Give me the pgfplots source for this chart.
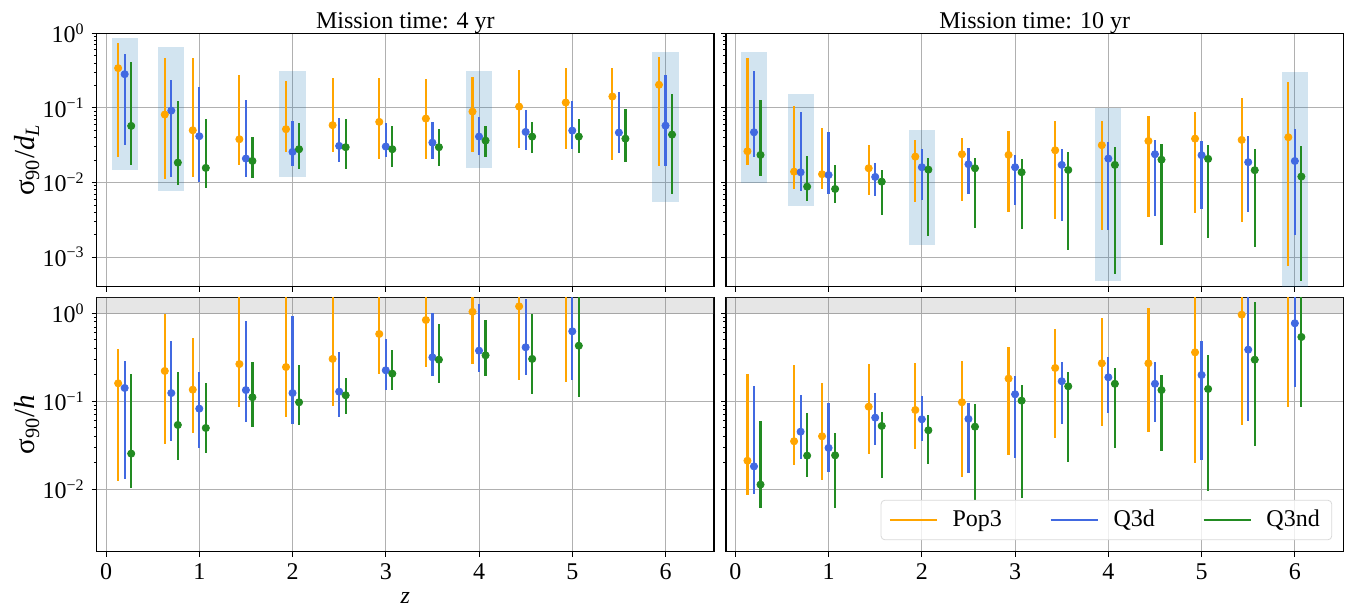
\documentclass[border=0pt]{standalone}
\usepackage{fontspec}
\setmainfont{Liberation Serif}
\usepackage{pgfplots}
\pgfplotsset{compat=1.18}
\definecolor{orC}{RGB}{255,165,0}
\definecolor{blC}{RGB}{65,105,225}
\definecolor{grC}{RGB}{34,139,34}
\definecolor{boxC}{RGB}{31,119,180}
\definecolor{gridC}{RGB}{176,176,176}
\newcommand{\myfs}{\fontsize{12}{14}\selectfont}
\begin{document}
\begin{tikzpicture}
\useasboundingbox (0,0) rectangle (673.5pt,303pt);
% ---------------- top left
\begin{axis}[at={(48.35pt,286.35pt)}, anchor=north west,
  scale only axis, width=308.65pt, height=126.7pt,
  xmin=-0.1, xmax=6.52, ymode=log, ymin=4e-4, ymax=1,
  tick align=outside, xtick pos=bottom, ytick pos=left,
  xtick={0,1,2,3,4,5,6}, xticklabels={},
  ytick={1e-3,1e-2,1e-1,1},
  yticklabels={10\textsuperscript{−3},10\textsuperscript{−2},10\textsuperscript{−1},10\textsuperscript{0}},
  major tick length=2.5pt, minor tick length=1.4pt,
  tick style={black, line width=0.4pt},
  grid=major, major grid style={gridC, line width=0.4pt},
  axis line style={line width=0.65pt},
  tick label style={font=\myfs},
  title={Mission time: 4 yr},
  title style={font=\myfs, at={(0.5,1)}, anchor=base, yshift=-3.35pt},
  ylabel={σ\textsubscript{90}/\textit{d}\textsubscript{\textit{L}}},
  ylabel style={at={(axis description cs:-0.113,0.5)}, anchor=center, rotate=0, font=\fontsize{14.5}{16}\selectfont},
  ]
\addplot[fill=boxC, fill opacity=0.2, draw=none] coordinates {(0.06,0.01486) (0.34,0.01486) (0.34,0.87) (0.06,0.87)} -- cycle;
\addplot[fill=boxC, fill opacity=0.2, draw=none] coordinates {(0.56,0.00776) (0.84,0.00776) (0.84,0.659) (0.56,0.659)} -- cycle;
\addplot[fill=boxC, fill opacity=0.2, draw=none] coordinates {(1.86,0.01197) (2.14,0.01197) (2.14,0.314) (1.86,0.314)} -- cycle;
\addplot[fill=boxC, fill opacity=0.2, draw=none] coordinates {(3.86,0.0158) (4.14,0.0158) (4.14,0.314) (3.86,0.314)} -- cycle;
\addplot[fill=boxC, fill opacity=0.2, draw=none] coordinates {(5.86,0.00547) (6.14,0.00547) (6.14,0.565) (5.86,0.565)} -- cycle;
\addplot[only marks, mark=*, mark size=1.8pt, color=orC, error bars/y dir=both, error bars/y explicit, error bars/error mark=none, error bars/error bar style={line width=1.1pt}]
 table[x=x, y=y, y error plus expr=\thisrow{hi}-\thisrow{y}, y error minus expr=\thisrow{y}-\thisrow{lo}] {
x y lo hi
0.13 0.341 0.0222 0.738
0.63 0.0814 0.01114 0.469
0.93 0.0501 0.01173 0.469
1.43 0.038 0.0172 0.272
1.93 0.0518 0.0257 0.228
2.43 0.0586 0.0254 0.255
2.93 0.0649 0.0207 0.25
3.43 0.0719 0.0205 0.243
3.93 0.0892 0.0259 0.263
4.43 0.104 0.0293 0.324
4.93 0.118 0.0284 0.341
5.43 0.142 0.0199 0.347
5.93 0.204 0.0168 0.484
};
\addplot[only marks, mark=*, mark size=1.8pt, color=blC, error bars/y dir=both, error bars/y explicit, error bars/error mark=none, error bars/error bar style={line width=1.1pt}]
 table[x=x, y=y, y error plus expr=\thisrow{hi}-\thisrow{y}, y error minus expr=\thisrow{y}-\thisrow{lo}] {
x y lo hi
0.2 0.283 0.0322 0.531
0.7 0.092 0.01197 0.238
1.0 0.0417 0.01006 0.19
1.5 0.0209 0.01173 0.127
2.0 0.0257 0.01665 0.067
2.5 0.0309 0.01866 0.0734
3.0 0.0303 0.022 0.0623
3.5 0.0342 0.0209 0.0643
4.0 0.0412 0.0236 0.0757
4.5 0.0476 0.0273 0.094
5.0 0.0496 0.0284 0.123
5.5 0.0466 0.0249 0.164
6.0 0.0578 0.0168 0.277
};
\addplot[only marks, mark=*, mark size=1.8pt, color=grC, error bars/y dir=both, error bars/y explicit, error bars/error mark=none, error bars/error bar style={line width=1.1pt}]
 table[x=x, y=y, y error plus expr=\thisrow{hi}-\thisrow{y}, y error minus expr=\thisrow{y}-\thisrow{lo}] {
x y lo hi
0.27 0.0573 0.0172 0.414
0.77 0.01845 0.00925 0.125
1.07 0.01566 0.00844 0.0705
1.57 0.01944 0.01138 0.0412
2.07 0.0279 0.01504 0.0623
2.57 0.0297 0.0152 0.0705
3.07 0.0279 0.016 0.0573
3.57 0.0297 0.0168 0.0523
4.07 0.0364 0.0222 0.0573
4.57 0.0412 0.0251 0.0643
5.07 0.0412 0.0251 0.0719
5.57 0.0387 0.0187 0.097
6.07 0.0438 0.00694 0.153
};
\end{axis}
% ---------------- top right
\begin{axis}[at={(363pt,286.35pt)}, anchor=north west,
  scale only axis, width=308.65pt, height=126.7pt,
  xmin=-0.1, xmax=6.52, ymode=log, ymin=4e-4, ymax=1,
  tick align=outside, xtick pos=bottom, ytick pos=left,
  xtick={0,1,2,3,4,5,6}, xticklabels={},
  ytick={1e-3,1e-2,1e-1,1}, yticklabels={},
  major tick length=2.5pt, minor tick length=1.4pt,
  tick style={black, line width=0.4pt},
  grid=major, major grid style={gridC, line width=0.4pt},
  axis line style={line width=0.65pt},
  tick label style={font=\myfs},
  title={Mission time: 10 yr},
  title style={font=\myfs, at={(0.5,1)}, anchor=base, yshift=-3.35pt},
  ]
\addplot[fill=boxC, fill opacity=0.2, draw=none] coordinates {(0.06,0.00993) (0.34,0.00993) (0.34,0.565) (0.06,0.565)} -- cycle;
\addplot[fill=boxC, fill opacity=0.2, draw=none] coordinates {(0.56,0.00488) (0.84,0.00488) (0.84,0.154) (0.56,0.154)} -- cycle;
\addplot[fill=boxC, fill opacity=0.2, draw=none] coordinates {(1.86,0.00146) (2.14,0.00146) (2.14,0.0507) (1.86,0.0507)} -- cycle;
\addplot[fill=boxC, fill opacity=0.2, draw=none] coordinates {(3.86,0.00048) (4.14,0.00048) (4.14,0.1) (3.86,0.1)} -- cycle;
\addplot[fill=boxC, fill opacity=0.2, draw=none] coordinates {(5.86,0.0001) (6.14,0.0001) (6.14,0.304) (5.86,0.304)} -- cycle;
\addplot[only marks, mark=*, mark size=1.8pt, color=orC, error bars/y dir=both, error bars/y explicit, error bars/error mark=none, error bars/error bar style={line width=1.1pt}]
 table[x=x, y=y, y error plus expr=\thisrow{hi}-\thisrow{y}, y error minus expr=\thisrow{y}-\thisrow{lo}] {
x y lo hi
0.13 0.0262 0.01734 0.465
0.63 0.01396 0.0081 0.1054
0.93 0.0129 0.0081 0.0544
1.43 0.0155 0.00686 0.0322
1.93 0.0222 0.00547 0.0375
2.43 0.0239 0.0057 0.0396
2.93 0.0234 0.00406 0.0487
3.43 0.027 0.00327 0.067
3.93 0.0316 0.0023 0.067
4.43 0.036 0.00347 0.078
4.93 0.0387 0.00386 0.0883
5.43 0.0372 0.00292 0.135
5.93 0.0404 0.00077 0.223
};
\addplot[only marks, mark=*, mark size=1.8pt, color=blC, error bars/y dir=both, error bars/y explicit, error bars/error mark=none, error bars/error bar style={line width=1.1pt}]
 table[x=x, y=y, y error plus expr=\thisrow{hi}-\thisrow{y}, y error minus expr=\thisrow{y}-\thisrow{lo}] {
x y lo hi
0.2 0.0471 0.0222 0.314
0.7 0.0137 0.0076 0.0892
1.0 0.0126 0.00708 0.0471
1.5 0.01186 0.00665 0.0181
2.0 0.016 0.00577 0.0279
2.5 0.01755 0.00708 0.0291
3.0 0.016 0.00499 0.0232
3.5 0.0172 0.00304 0.0284
4.0 0.0209 0.00228 0.0346
4.5 0.0239 0.00355 0.0372
5.0 0.0232 0.00445 0.0357
5.5 0.0187 0.00406 0.0421
6.0 0.0194 0.00199 0.0527
};
\addplot[only marks, mark=*, mark size=1.8pt, color=grC, error bars/y dir=both, error bars/y explicit, error bars/error mark=none, error bars/error bar style={line width=1.1pt}]
 table[x=x, y=y, y error plus expr=\thisrow{hi}-\thisrow{y}, y error minus expr=\thisrow{y}-\thisrow{lo}] {
x y lo hi
0.27 0.0234 0.01222 0.128
0.77 0.00879 0.0057 0.0229
1.07 0.00818 0.00536 0.017
1.57 0.01025 0.0037 0.01486
2.07 0.01486 0.00191 0.0211
2.57 0.0155 0.00247 0.0211
3.07 0.0137 0.00235 0.0205
3.57 0.0147 0.00124 0.0254
4.07 0.0172 0.00059 0.03
4.57 0.0202 0.00144 0.0325
5.07 0.0207 0.00182 0.0319
5.57 0.0146 0.00138 0.0279
6.07 0.012 0.00048 0.0306
};
\end{axis}
% ---------------- bottom left
\begin{axis}[at={(48.35pt,154.35pt)}, anchor=north west,
  scale only axis, width=308.65pt, height=127.2pt,
  xmin=-0.1, xmax=6.52, ymode=log, ymin=1.95e-3, ymax=1.52,
  tick align=outside, xtick pos=bottom, ytick pos=left,
  xtick={0,1,2,3,4,5,6}, xticklabels={0,1,2,3,4,5,6},
  ytick={1e-2,1e-1,1},
  yticklabels={10\textsuperscript{−2},10\textsuperscript{−1},10\textsuperscript{0}},
  major tick length=2.5pt, minor tick length=1.4pt,
  tick style={black, line width=0.4pt},
  grid=major, major grid style={gridC, line width=0.4pt},
  axis line style={line width=0.65pt},
  tick label style={font=\myfs},
  xlabel={\textit{z}},
  xlabel style={at={(axis description cs:0.5,0)}, anchor=base, yshift=-26pt, font=\myfs},
  ylabel={σ\textsubscript{90}/\textit{h}},
  ylabel style={at={(axis description cs:-0.113,0.5)}, anchor=center, rotate=0, font=\fontsize{14.5}{16}\selectfont},
  ]
\addplot[fill=gray, fill opacity=0.2, draw=gray, draw opacity=0.2, line width=0.6pt] coordinates {(-1,1) (8,1) (8,10) (-1,10)} -- cycle;
\addplot[only marks, mark=*, mark size=1.8pt, color=orC, error bars/y dir=both, error bars/y explicit, error bars/error mark=none, error bars/error bar style={line width=1.1pt}]
 table[x=x, y=y, y error plus expr=\thisrow{hi}-\thisrow{y}, y error minus expr=\thisrow{y}-\thisrow{lo}] {
x y lo hi
0.13 0.160 0.01253 0.390
0.63 0.221 0.033 0.99
0.93 0.1355 0.044 0.52
1.43 0.265 0.0868 3
1.93 0.245 0.0658 3
2.43 0.303 0.0877 3
2.93 0.582 0.203 3
3.43 0.839 0.243 3
3.93 1.04 0.265 3
4.43 1.20 0.173 3
4.93 2.5 0.167 5
};
\addplot[only marks, mark=*, mark size=1.8pt, color=blC, error bars/y dir=both, error bars/y explicit, error bars/error mark=none, error bars/error bar style={line width=1.1pt}]
 table[x=x, y=y, y error plus expr=\thisrow{hi}-\thisrow{y}, y error minus expr=\thisrow{y}-\thisrow{lo}] {
x y lo hi
0.2 0.1416 0.0131 0.287
0.7 0.124 0.0351 0.489
1.0 0.0824 0.0292 0.214
1.5 0.134 0.0586 0.818
2.0 0.124 0.0557 0.93
2.5 0.1286 0.0664 0.360
3.0 0.225 0.134 0.511
3.5 0.316 0.192 1.02
4.0 0.376 0.217 1.27
4.5 0.411 0.197 1.44
5.0 0.624 0.175 3
};
\addplot[only marks, mark=*, mark size=1.8pt, color=grC, error bars/y dir=both, error bars/y explicit, error bars/error mark=none, error bars/error bar style={line width=1.1pt}]
 table[x=x, y=y, y error plus expr=\thisrow{hi}-\thisrow{y}, y error minus expr=\thisrow{y}-\thisrow{lo}] {
x y lo hi
0.27 0.0254 0.0104 0.206
0.77 0.0538 0.0215 0.215
1.07 0.0497 0.0256 0.160
1.57 0.111 0.0514 0.277
2.07 0.0974 0.0538 0.258
2.57 0.117 0.0723 0.1825
3.07 0.206 0.134 0.386
3.57 0.297 0.160 0.756
4.07 0.333 0.195 0.832
4.57 0.303 0.122 0.99
5.07 0.428 0.113 3
};
\end{axis}
% ---------------- bottom right
\begin{axis}[at={(363pt,154.35pt)}, anchor=north west,
  scale only axis, width=308.65pt, height=127.2pt,
  xmin=-0.1, xmax=6.52, ymode=log, ymin=1.95e-3, ymax=1.52,
  tick align=outside, xtick pos=bottom, ytick pos=left,
  xtick={0,1,2,3,4,5,6}, xticklabels={0,1,2,3,4,5,6},
  ytick={1e-2,1e-1,1}, yticklabels={},
  major tick length=2.5pt, minor tick length=1.4pt,
  tick style={black, line width=0.4pt},
  grid=major, major grid style={gridC, line width=0.4pt},
  axis line style={line width=0.65pt},
  tick label style={font=\myfs},
  legend columns=3,
  legend style={at={(0.982,0.045)}, anchor=south east, font=\myfs,
    fill=white, fill opacity=0.8, text opacity=1, draw=gray!30, rounded corners=2pt,
    inner xsep=4pt, inner ysep=3pt,
    /tikz/every even column/.append style={column sep=22pt}},
  legend image code/.code={\draw[#1] (0pt,0pt) -- (23.5pt,0pt); \path (29pt,0pt);},
  ]
\addplot[forget plot, fill=gray, fill opacity=0.2, draw=gray, draw opacity=0.2, line width=0.6pt] coordinates {(-1,1) (8,1) (8,10) (-1,10)} -- cycle;
\addplot[forget plot, only marks, mark=*, mark size=1.8pt, color=orC, error bars/y dir=both, error bars/y explicit, error bars/error mark=none, error bars/error bar style={line width=1.1pt}]
 table[x=x, y=y, y error plus expr=\thisrow{hi}-\thisrow{y}, y error minus expr=\thisrow{y}-\thisrow{lo}] {
x y lo hi
0.13 0.0211 0.00869 0.204
0.63 0.0351 0.0189 0.261
0.93 0.040 0.01286 0.160
1.43 0.0868 0.025 0.267
1.93 0.0796 0.0289 0.272
2.43 0.0974 0.0139 0.285
2.93 0.181 0.0247 0.411
3.43 0.239 0.0386 0.663
3.93 0.270 0.052 0.885
4.43 0.270 0.0448 1.16
4.93 0.360 0.02 3
5.43 0.964 0.0533 3
5.93 2.5 0.0861 5
};
\addplot[forget plot, only marks, mark=*, mark size=1.8pt, color=blC, error bars/y dir=both, error bars/y explicit, error bars/error mark=none, error bars/error bar style={line width=1.1pt}]
 table[x=x, y=y, y error plus expr=\thisrow{hi}-\thisrow{y}, y error minus expr=\thisrow{y}-\thisrow{lo}] {
x y lo hi
0.2 0.0182 0.0089 0.151
0.7 0.0451 0.0223 0.119
1.0 0.0295 0.01574 0.0964
1.5 0.0651 0.0321 0.125
2.0 0.0624 0.0351 0.114
2.5 0.063 0.0152 0.0964
3.0 0.120 0.0227 0.194
3.5 0.169 0.0548 0.280
4.0 0.1874 0.073 0.319
4.5 0.158 0.0577 0.282
5.0 0.199 0.0215 0.481
5.5 0.386 0.0602 3
6.0 0.77 0.1466 3
};
\addplot[forget plot, only marks, mark=*, mark size=1.8pt, color=grC, error bars/y dir=both, error bars/y explicit, error bars/error mark=none, error bars/error bar style={line width=1.1pt}]
 table[x=x, y=y, y error plus expr=\thisrow{hi}-\thisrow{y}, y error minus expr=\thisrow{y}-\thisrow{lo}] {
x y lo hi
0.27 0.0113 0.00608 0.0597
0.77 0.0241 0.0137 0.0736
1.07 0.0243 0.00613 0.0436
1.57 0.0524 0.0133 0.0762
2.07 0.0468 0.0194 0.0693
2.57 0.0514 0.0075 0.0925
3.07 0.1016 0.008 0.1545
3.57 0.148 0.0204 0.214
4.07 0.158 0.0297 0.241
4.57 0.134 0.0272 0.197
5.07 0.138 0.00964 0.333
5.57 0.297 0.0308 1.33
6.07 0.538 0.0868 3
};
\addlegendimage{orC, line width=0.8pt}
\addlegendentry{Pop3}
\addlegendimage{blC, line width=0.8pt}
\addlegendentry{Q3d}
\addlegendimage{grC, line width=0.8pt}
\addlegendentry{Q3nd}
\end{axis}
\end{tikzpicture}
\end{document}
